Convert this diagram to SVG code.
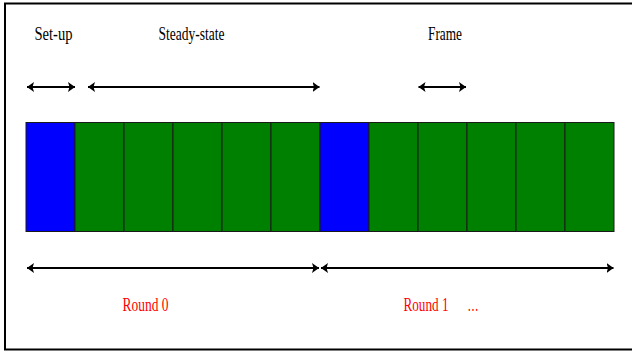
<svg xmlns="http://www.w3.org/2000/svg" width="632" height="353" viewBox="0 0 632 353">
<style>
.lbl{font-family:"Liberation Serif","Times New Roman",serif;font-size:19px;fill:#000}
.red{fill:#ff0000}
.cell{stroke:#1a1a1a;stroke-width:1}
.g{fill:#008000}
.b{fill:#0000ff}
.arr{stroke:#000;stroke-width:1.8;fill:none;marker-start:url(#ah);marker-end:url(#ah)}
</style>
<defs>
<marker id="ah" markerUnits="userSpaceOnUse" markerWidth="8" markerHeight="10" refX="7" refY="5" orient="auto-start-reverse" viewBox="0 0 8 10">
<path d="M0,0 L7,5 L0,10 L1.5,5 Z" fill="#000"/>
</marker>
</defs>
<rect x="5" y="3.5" width="640" height="346" fill="#fff" stroke="#000" stroke-width="2"/>
<g id="bar">
<rect id="c0" class="cell b" x="26" y="122.5" width="49" height="109"/>
<rect id="c1" class="cell g" x="75" y="122.5" width="49" height="109"/>
<rect id="c2" class="cell g" x="124" y="122.5" width="49" height="109"/>
<rect id="c3" class="cell g" x="173" y="122.5" width="49" height="109"/>
<rect id="c4" class="cell g" x="222" y="122.5" width="49" height="109"/>
<rect id="c5" class="cell g" x="271" y="122.5" width="49" height="109"/>
<rect id="c6" class="cell b" x="320" y="122.5" width="49" height="109"/>
<rect id="c7" class="cell g" x="369" y="122.5" width="49" height="109"/>
<rect id="c8" class="cell g" x="418" y="122.5" width="49" height="109"/>
<rect id="c9" class="cell g" x="467" y="122.5" width="49" height="109"/>
<rect id="c10" class="cell g" x="516" y="122.5" width="49" height="109"/>
<rect id="c11" class="cell g" x="565" y="122.5" width="49" height="109"/>
</g>
<g id="connectors">
<line class="arr" x1="27" y1="87" x2="75" y2="87"/>
<line class="arr" x1="88" y1="87" x2="319.5" y2="87"/>
<line class="arr" x1="418.5" y1="87" x2="466" y2="87"/>
<line class="arr" x1="27" y1="268" x2="319" y2="268"/>
<line class="arr" x1="321" y1="268" x2="613.5" y2="268"/>
</g>
<g id="labels">
<text class="lbl" x="34.5" y="40" textLength="38" lengthAdjust="spacingAndGlyphs">Set-up</text>
<text class="lbl" x="158.5" y="40" textLength="66" lengthAdjust="spacingAndGlyphs">Steady-state</text>
<text class="lbl" x="428" y="40" textLength="34" lengthAdjust="spacingAndGlyphs">Frame</text>
<text class="lbl red" x="122.5" y="310.5" textLength="46" lengthAdjust="spacingAndGlyphs">Round 0</text>
<text class="lbl red" x="403.5" y="310.5" textLength="45" lengthAdjust="spacingAndGlyphs">Round 1</text>
<text class="lbl red" x="467.5" y="310.5" textLength="11" lengthAdjust="spacingAndGlyphs">…</text>
</g>
</svg>
